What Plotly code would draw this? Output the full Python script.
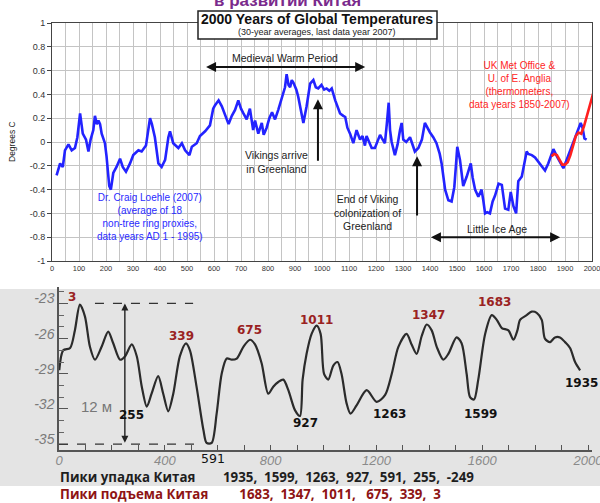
import plotly.graph_objects as go

# ---------------- Top chart: 2000 Years of Global Temperatures ----------------
loehle_years = [17, 30, 40, 48, 61, 73, 85, 94, 104, 109, 114, 126, 135, 143, 153, 159, 166, 172, 178, 184,
                196, 202, 212, 218, 227, 239, 252, 262, 274, 289, 301, 320, 332, 348, 358, 363, 370, 381, 394, 406,
                419, 431, 437, 449, 468, 481, 493, 509, 518, 536, 548, 567, 585, 597, 604, 617, 629, 643, 654, 666,
                678, 690, 700, 709, 721, 733, 745, 752, 764, 777, 784, 795, 805, 815, 826, 838, 851, 863, 869, 876,
                882, 888, 894, 905, 912, 919, 931, 943, 956, 968, 977, 986, 998, 1008, 1017, 1027, 1036, 1049, 1060, 1067,
                1079, 1086, 1094, 1104, 1116, 1128, 1136, 1141, 1150, 1159, 1165, 1176, 1184, 1196, 1208, 1215, 1222, 1233, 1240, 1247,
                1252, 1258, 1270, 1280, 1289, 1295, 1301, 1312, 1326, 1335, 1344, 1357, 1370, 1381, 1390, 1400, 1412, 1424, 1436, 1443,
                1456, 1468, 1480, 1490, 1496, 1501, 1511, 1523, 1536, 1544, 1551, 1558, 1567, 1579, 1591, 1598, 1604, 1612, 1622, 1632,
                1641, 1654, 1666, 1678, 1690, 1699, 1709, 1719, 1727, 1740, 1752, 1758, 1764, 1777, 1789, 1802, 1814, 1826, 1838, 1850,
                1857, 1870, 1881, 1894, 1906, 1919, 1931, 1943, 1950, 1958, 1965, 1972, 1980]
loehle_temps = [-0.28, -0.18, -0.21, -0.07, -0.02, -0.07, -0.05, 0.04, 0.24, 0.16, 0.07, 0.02, -0.08, 0.02, 0.10, 0.22, 0.15, 0.18, 0.15, 0.07,
                -0.01, -0.12, -0.37, -0.40, -0.26, -0.21, -0.14, -0.21, -0.25, -0.18, -0.11, -0.07, -0.08, -0.03, 0.10, 0.20, 0.15, 0.04, -0.18, -0.21,
                -0.15, 0.04, 0.09, -0.01, -0.05, -0.01, -0.07, -0.11, -0.04, -0.01, 0.05, 0.09, 0.14, 0.28, 0.31, 0.35, 0.30, 0.21, 0.15, 0.22,
                0.27, 0.35, 0.28, 0.24, 0.19, 0.28, 0.10, 0.18, 0.07, 0.16, 0.06, 0.12, 0.20, 0.25, 0.19, 0.27, 0.38, 0.46, 0.57, 0.48,
                0.46, 0.52, 0.50, 0.44, 0.38, 0.29, 0.16, 0.30, 0.49, 0.52, 0.46, 0.45, 0.48, 0.44, 0.45, 0.43, 0.45, 0.35, 0.28, 0.24,
                0.22, 0.21, 0.12, 0.07, -0.01, 0.10, 0.05, 0.02, 0.05, -0.03, 0.05, 0.00, -0.05, -0.05, 0.02, 0.06, 0.03, -0.01, 0.15, 0.33,
                0.10, 0.00, -0.11, -0.02, 0.10, 0.16, 0.02, 0.00, 0.04, -0.03, -0.08, -0.05, 0.02, 0.16, 0.12, 0.08, 0.04, -0.01, -0.10, -0.18,
                -0.40, -0.49, -0.50, -0.38, -0.20, -0.04, -0.15, -0.37, -0.29, -0.22, -0.18, -0.30, -0.40, -0.46, -0.40, -0.50, -0.60, -0.59, -0.60, -0.50,
                -0.45, -0.35, -0.36, -0.56, -0.57, -0.42, -0.54, -0.60, -0.33, -0.29, -0.15, -0.08, -0.10, -0.11, -0.13, -0.17, -0.21, -0.24, -0.18, -0.10,
                -0.06, -0.12, -0.17, -0.22, -0.15, -0.07, 0.00, 0.08, 0.12, 0.16, 0.12, 0.03, 0.02]

hadcrut_years = [1850, 1860, 1870, 1880, 1890, 1900, 1910, 1920, 1930, 1940, 1950, 1960, 1970, 1980, 1990, 2000, 2007]
hadcrut_temps = [-0.12, -0.10, -0.11, -0.15, -0.19, -0.19, -0.17, -0.11, -0.04, 0.05, 0.08, 0.07, 0.13, 0.21, 0.30, 0.38, 0.43]

top_x_ticks = list(range(0, 2001, 100))
top_y_ticks = [1, 0.8, 0.6, 0.4, 0.2, 0, -0.2, -0.4, -0.6, -0.8, -1]
top_y_labels = ["1", "0.8", "0.6", "0.4", "0.2", "0", "-0.2", "-0.4", "-0.6", "-0.8", "-1"]

# ---------------- Bottom chart: cycles (scanned curve) ----------------
china_years = [1, 16, 42, 60, 79, 98, 117, 136, 161, 186, 205, 231, 250, 275, 294, 313, 332, 350, 375, 394,
               413, 432, 457, 480, 495, 520, 546, 558, 577, 596, 615, 634, 653, 672, 697, 722, 741, 766, 791, 810,
               829, 848, 867, 892, 911, 921, 936, 955, 974, 989, 1002, 1018, 1037, 1053, 1068, 1087, 1102, 1125, 1163, 1201,
               1233, 1258, 1283, 1314, 1333, 1352, 1371, 1390, 1409, 1428, 1453, 1472, 1503, 1522, 1541, 1554, 1569, 1585, 1611, 1636,
               1655, 1674, 1699, 1718, 1733, 1743, 1768, 1787, 1806, 1825, 1837, 1856, 1875, 1894, 1913, 1932, 1951, 1970]
china_levels = [-28.7, -27.0, -26.8, -25.3, -23.1, -24.1, -26.7, -27.8, -26.7, -25.4, -26.4, -27.8, -27.5, -26.5, -27.5, -30.1, -31.8, -30.7, -29.2, -30.7,
                -32.2, -30.7, -27.5, -26.4, -27.0, -30.1, -33.8, -34.9, -34.9, -32.4, -29.0, -27.7, -27.8, -27.7, -26.7, -26.1, -26.5, -28.1, -30.7, -30.1,
                -29.7, -29.5, -30.4, -32.1, -32.6, -29.5, -27.3, -25.6, -24.9, -25.6, -29.0, -29.5, -28.3, -28.0, -29.0, -31.5, -32.4, -31.7, -30.4, -31.4,
                -30.8, -29.0, -26.7, -25.6, -26.5, -27.3, -25.8, -24.8, -25.3, -26.7, -27.8, -27.3, -25.9, -26.4, -29.0, -31.0, -31.2, -29.5, -25.6, -24.0,
                -24.4, -25.1, -25.3, -26.1, -25.3, -24.4, -24.0, -23.7, -23.8, -24.4, -26.0, -26.3, -25.9, -25.9, -26.3, -26.8, -28.0, -28.7]

china_y_ticks = [-23, -26, -29, -32, -35]
china_x_ticks = [0, 400, 800, 1200, 1600, 2000]
level_high = -23
level_low = -35

rise_labels = ["3", "339", "675", "1011", "1347", "1683"]
rise_label_x = [49, 464, 722, 974, 1396, 1648]
rise_label_y = [-22.45, -25.8, -25.3, -24.4, -24.0, -22.9]
fall_labels = ["255", "927", "1263", "1599", "1935"]
fall_label_x = [275, 930, 1249, 1592, 1976]
fall_label_y = [-32.5, -33.2, -32.45, -32.4, -29.8]

decline_years = ["1935", "1599", "1263", "927", "591", "255", "-249"]
rise_years = ["1683", "1347", "1011", "675", "339", "3"]

W, H = 600, 503
def px(x):
    return x / W
def py(y):
    return (H - y) / H

fig = go.Figure()

fig.add_trace(go.Scatter(x=loehle_years, y=loehle_temps, mode="lines",
                         line=dict(color="#2323ff", width=2.6), xaxis="x", yaxis="y", showlegend=False))
fig.add_trace(go.Scatter(x=hadcrut_years, y=hadcrut_temps, mode="lines",
                         line=dict(color="#ff1f1f", width=2.6), xaxis="x", yaxis="y", showlegend=False))
fig.add_trace(go.Scatter(x=china_years, y=china_levels, mode="lines", line_shape="spline",
                         line=dict(color="#2b2b2b", width=2.2, smoothing=0.8), xaxis="x2", yaxis="y2", showlegend=False))

grid_col = "#c4c4c4"
fig.update_layout(
    width=W, height=H, margin=dict(l=0, r=0, t=0, b=0, autoexpand=False),
    paper_bgcolor="white", plot_bgcolor="rgba(0,0,0,0)", showlegend=False,
    font=dict(family="Liberation Sans, Arial, sans-serif", color="#222"),
    xaxis=dict(domain=[px(52), px(592)], range=[0, 2000], anchor="y",
               tickvals=top_x_ticks, ticktext=[str(v) for v in top_x_ticks], ticklabeloverflow="allow",
               tickfont=dict(size=7.5, color="#333"), ticks="", showgrid=True, gridcolor=grid_col, gridwidth=1.3,
               minor=dict(dtick=50, tick0=0, showgrid=True, gridcolor=grid_col, gridwidth=1.3),
               showline=True, linecolor="#444", linewidth=1, mirror=True, zeroline=False,
               automargin=False, fixedrange=True),
    yaxis=dict(domain=[py(261), py(23)], range=[-1, 1], anchor="x",
               tickvals=top_y_ticks, ticktext=top_y_labels,
               tickfont=dict(size=9, color="#333"), ticks="outside", ticklen=4, tickcolor="#444",
               showgrid=True, gridcolor=grid_col, gridwidth=1.3,
               showline=True, linecolor="#444", linewidth=1, mirror=True, zeroline=False,
               automargin=False, fixedrange=True),
    xaxis2=dict(domain=[px(59), px(592)], range=[0, 2015], anchor="y2",
                tickvals=china_x_ticks, ticktext=[str(v) for v in china_x_ticks], ticklabeloverflow="allow",
                tickfont=dict(size=13, color="#8a8a8a", style="italic"), ticklabelstandoff=-2,
                ticks="inside", ticklen=5, tickcolor="#555",
                minor=dict(dtick=100, tick0=0, ticks="inside", ticklen=5, tickcolor="#555"),
                showgrid=False, showline=True, linecolor="#555", linewidth=1.5, zeroline=False,
                automargin=False, fixedrange=True),
    yaxis2=dict(domain=[py(450), py(287)], range=[-35.5, -21.6], anchor="x2",
                tickvals=china_y_ticks, ticktext=[str(v) for v in china_y_ticks],
                tickfont=dict(size=14, color="#7a7a7a", style="italic"), ticklabelshift=-5,
                ticks="inside", ticklen=9, tickcolor="#555",
                minor=dict(dtick=1, tick0=-35, ticks="inside", ticklen=5, tickcolor="#666"),
                showgrid=False, showline=True, linecolor="#555", linewidth=1.5, zeroline=False,
                automargin=False, fixedrange=True),
)

shapes = [
    # scanned-paper background of the lower chart
    dict(type="rect", xref="paper", yref="paper", x0=0, x1=1.0, y0=py(486), y1=py(289),
         fillcolor="#e4e4e4", line=dict(width=0), layer="below"),
    # dashed level lines
    dict(type="line", xref="x2", yref="y2", x0=136, x1=507, y0=level_high, y1=level_high,
         line=dict(color="#333", width=1.3, dash="dash")),
    dict(type="line", xref="x2", yref="y2", x0=0, x1=533, y0=level_low, y1=level_low,
         line=dict(color="#333", width=1.3, dash="dash")),
    # title box
    dict(type="rect", xref="paper", yref="paper", x0=px(198), x1=px(437), y0=py(39), y1=py(11),
         fillcolor="white", line=dict(color="#222", width=1.5), layer="above"),
]
fig.update_layout(shapes=shapes)

C = dict(xanchor="center", yanchor="middle", showarrow=False)
ann = []
# purple heading (cut at top)
ann.append(dict(text="<b>в развитии Китая</b>", x=px(287), y=py(0), xref="paper", yref="paper",
                font=dict(size=17, color="#7a2a8c", family="Liberation Sans, Arial"), **C))
# title box text
ann.append(dict(text="<b>2000 Years of Global Temperatures</b>", x=px(317), y=py(19), xref="paper", yref="paper",
                font=dict(size=14, color="#111"), **C))
ann.append(dict(text="(30-year averages, last data year 2007)", x=px(317), y=py(32), xref="paper", yref="paper",
                font=dict(size=9, color="#222"), **C))
# Degrees C
ann.append(dict(text="Degrees C", x=px(12), y=py(142), xref="paper", yref="paper",
                textangle=-90, font=dict(size=8.5, color="#222"), **C))
# Medieval Warm Period
ann.append(dict(text="Medieval Warm Period", x=863, y=0.705, xref="x", yref="y",
                font=dict(size=10.5, color="#222"), **C))
ann.append(dict(text="", x=1160, y=0.63, ax=565, ay=0.63, xref="x", yref="y", axref="x", ayref="y",
                showarrow=True, arrowhead=2, arrowsize=1, arrowwidth=2, arrowcolor="#111", arrowside="end+start"))
# Vikings arrive
ann.append(dict(text="Vikings arrive<br>in Greenland", x=833, y=-0.165, xref="x", yref="y",
                font=dict(size=10.5, color="#222"), **C))
ann.append(dict(text="", x=985, y=0.36, ax=985, ay=-0.17, xref="x", yref="y", axref="x", ayref="y",
                showarrow=True, arrowhead=2, arrowsize=1, arrowwidth=2, arrowcolor="#111"))
# End of Viking colonization
ann.append(dict(text="End of Viking<br>colonization of<br>Greenland", x=1167, y=-0.59, xref="x", yref="y",
                font=dict(size=10.5, color="#222"), **C))
ann.append(dict(text="", x=1352, y=-0.12, ax=1352, ay=-0.63, xref="x", yref="y", axref="x", ayref="y",
                showarrow=True, arrowhead=2, arrowsize=1, arrowwidth=2, arrowcolor="#111"))
# Little Ice Age
ann.append(dict(text="Little Ice Age", x=1648, y=-0.73, xref="x", yref="y",
                font=dict(size=10.5, color="#222"), **C))
ann.append(dict(text="", x=1882, y=-0.80, ax=1398, ay=-0.80, xref="x", yref="y", axref="x", ayref="y",
                showarrow=True, arrowhead=2, arrowsize=1, arrowwidth=2, arrowcolor="#111", arrowside="end+start"))
# Loehle label
ann.append(dict(text="Dr. Craig Loehle (2007)<br>(average of 18<br>non-tree ring proxies,<br>data years AD 1 - 1995)",
                x=363, y=-0.63, xref="x", yref="y", font=dict(size=10, color="#2a2aff"), **C))
# UK Met Office label
ann.append(dict(text="UK Met Office &amp;<br>U. of E. Anglia<br>(thermometers,<br>data years 1850-2007)",
                x=1733, y=0.475, xref="x", yref="y", font=dict(size=10, color="#ff2525"), **C))

# Bottom chart annotations
ann.append(dict(text="", x=249, y=level_high, ax=249, ay=level_low, xref="x2", yref="y2", axref="x2", ayref="y2",
                showarrow=True, arrowhead=2, arrowsize=1, arrowwidth=1.4, arrowcolor="#222", arrowside="end+start"))
ann.append(dict(text="12 м", x=px(97), y=py(406), xref="paper", yref="paper",
                font=dict(size=15, color="#777"), **C))
for t, xv, yv in zip(rise_labels, rise_label_x, rise_label_y):
    ann.append(dict(text="<b>%s</b>" % t, x=xv, y=yv, xref="x2", yref="y2",
                    font=dict(size=12, color="#9a2222", family="DejaVu Sans"), **C))
for t, xv, yv in zip(fall_labels, fall_label_x, fall_label_y):
    ann.append(dict(text="<b>%s</b>" % t, x=xv, y=yv, xref="x2", yref="y2",
                    font=dict(size=12, color="#111", family="DejaVu Sans"), **C))
ann.append(dict(text="591", x=582, y=py(458), xref="x2", yref="paper",
                font=dict(size=12.5, color="#111", family="DejaVu Sans"), **C))

NB = "\u00a0"
sep = "," + NB + NB
line1 = "Пики упадка Китая" + NB * 8 + sep.join(decline_years)
line2 = "Пики подъема Китая" + NB * 9 + sep.join(rise_years[:3]) + "," + NB * 3 + sep.join(rise_years[3:])
ann.append(dict(text="<b>%s</b>" % line1,
                x=px(58), y=py(477), xref="paper", yref="paper", showarrow=False, xanchor="left", yanchor="middle",
                font=dict(size=13.3, color="#1e1e1e", family="Open Sans")))
ann.append(dict(text="<b>%s</b>" % line2,
                x=px(58), y=py(494), xref="paper", yref="paper", showarrow=False, xanchor="left", yanchor="middle",
                font=dict(size=13.3, color="#8e1414", family="Open Sans")))

fig.update_layout(annotations=ann)
fig.write_html("out.html", config={"displayModeBar": False},
               post_script="document.body.style.margin='0px';")
